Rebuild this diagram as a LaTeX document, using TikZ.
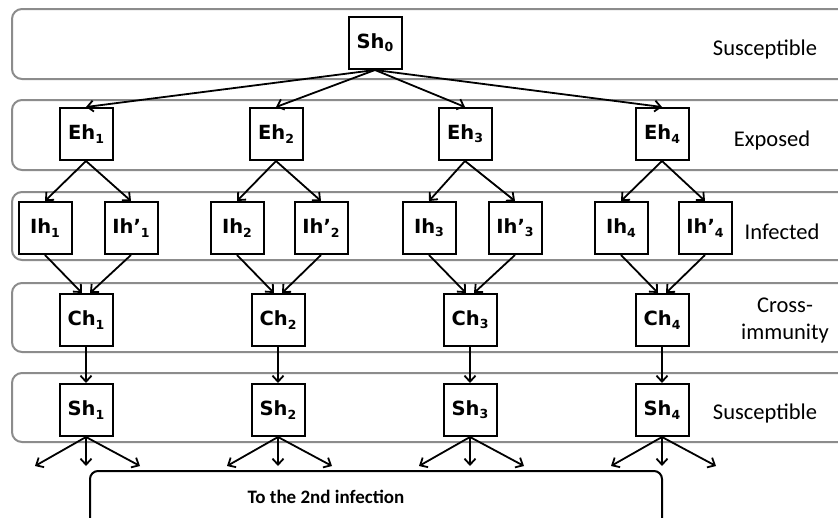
\documentclass[tikz,border=0pt]{standalone}
\usepackage{fontspec}
\usetikzlibrary{arrows.meta,calc}
\newfontfamily\boxfont{DejaVu Sans Bold}
\newfontfamily\lblfont{Carlito}
\newfontfamily\lblbold{Carlito Bold}
\newcommand{\nsub}[1]{\raisebox{-0.3ex}{\fontsize{12.5}{12.5}\selectfont #1}}
\tikzset{
  band/.style={draw=black!45, line width=2pt, rounded corners=10pt},
  cbox/.style={draw, line width=2pt, minimum width=53pt, minimum height=52pt,
    inner xsep=7pt, font=\boxfont\fontsize{19.5}{19.5}\selectfont},
  arr/.style={line width=1.8pt, -{Straight Barb[length=6pt,width=11pt,line width=1.8pt]}},
  lbl/.style={font=\lblfont\fontsize{22.5}{24}\selectfont, align=center},
}
\begin{document}
\begin{tikzpicture}[x=1pt,y=-1pt]
\useasboundingbox (0,0) rectangle (838,517);
\clip (0,0) rectangle (838,517);
\fill[white] (0,0) rectangle (838,517);
% bands
\foreach \t/\b in {9/79, 100/170, 192/260, 283/352, 373/442}
  \draw[band] (12,\t) rectangle (860,\b);
% bottom box
\draw[line width=2pt, rounded corners=8pt] (90,471) rectangle (662,540);
\node[font=\lblbold\fontsize{19}{19}\selectfont] (inf) at (326,497) {To the 2nd infection};
% labels
\node[lbl] (l1) at (765,49) {Susceptible};
\node[lbl] (l2) at (772,140) {Exposed};
\node[lbl] (l3) at (782,232) {Infected};
\node[lbl, font=\lblfont\fontsize{22.5}{27}\selectfont] (l4) at (785,321) {Cross-\\immunity};
\node[lbl] (l5) at (765,413) {Susceptible};
% nodes
\node[cbox] (Sh0) at (375,43) {Sh\nsub{0}};
\foreach \i/\x in {1/86, 2/276, 3/465, 4/662}
  \node[cbox] (Eh\i) at (\x,134) {Eh\nsub{\i}};
\foreach \i/\a/\b in {1/45/131, 2/237/321, 3/429/515, 4/621/705}{
  \node[cbox] (Ih\i) at (\a,228) {Ih\nsub{\i}};
  \node[cbox] (Ihp\i) at (\b,228) {Ih’\nsub{\i}};
}
\foreach \i/\x in {1/86, 2/278, 3/470, 4/662}{
  \node[cbox] (Ch\i) at (\x,320) {Ch\nsub{\i}};
  \node[cbox] (Sh\i) at (\x,410) {Sh\nsub{\i}};
  \coordinate (L\i) at (\x-51,466);
  \coordinate (M\i) at (\x,466);
  \coordinate (R\i) at (\x+54,466);
}
% edges
\foreach \i in {1,2,3,4}{
  \draw[arr] (Sh0.south) -- (Eh\i.north);
  \draw[arr] (Eh\i.south) -- (Ih\i.north);
  \draw[arr] (Eh\i.south) -- (Ihp\i.north);
  \draw[arr] (Ih\i.south) -- ($(Ch\i.north)+(-4,0)$);
  \draw[arr] (Ihp\i.south) -- ($(Ch\i.north)+(4,0)$);
  \draw[arr] (Ch\i.south) -- (Sh\i.north);
  \draw[arr] (Sh\i.south) -- (L\i);
  \draw[arr] (Sh\i.south) -- (M\i);
  \draw[arr] (Sh\i.south) -- (R\i);
}
\end{tikzpicture}
\end{document}
